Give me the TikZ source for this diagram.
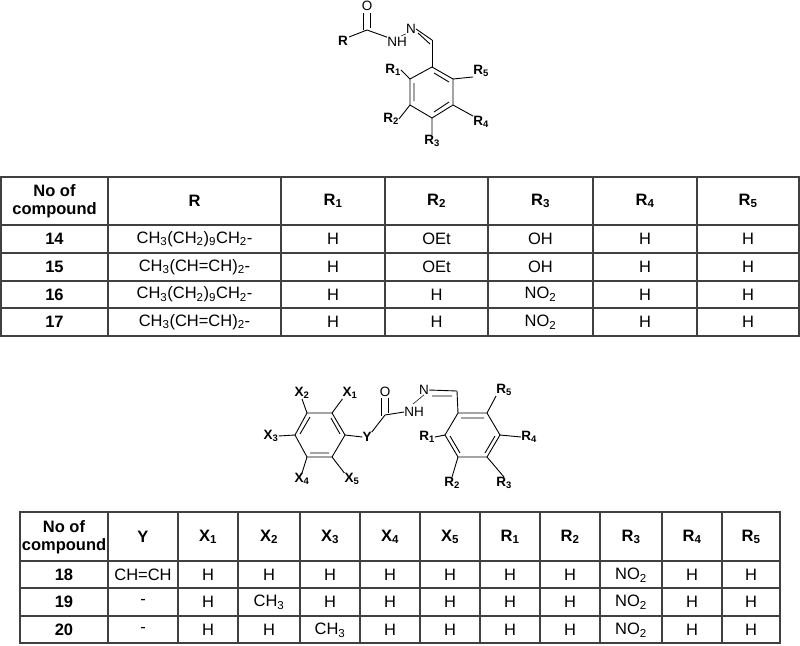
\documentclass[tikz,border=0pt]{standalone}
\usepackage{fontspec}
\setmainfont{Liberation Sans}
\newcommand\dn[1]{\textsubscript{#1}}
\begin{document}
\begin{tikzpicture}[x=1pt,y=-1pt,
  grid/.style={line width=1.1pt,draw=black!75},
  cell/.style={font=\fontsize{16.5}{18.5}\selectfont,inner sep=0pt,anchor=center},
  hcell/.style={cell,font=\fontsize{16.5}{18.5}\selectfont\bfseries,align=center},
  bond/.style={line width=0.9pt},
  lab/.style={font=\fontsize{13.5}{15}\selectfont\bfseries,inner sep=0pt},
  atom/.style={font=\fontsize{13.5}{15}\selectfont,inner sep=0pt}]
\useasboundingbox (0,0) rectangle (800,645);
% ---------- molecule 1 ----------
\coordinate (a1) at (432,67); \coordinate (a2) at (453,79); \coordinate (a3) at (453,105);
\coordinate (a4) at (432,118); \coordinate (a5) at (410,105); \coordinate (a6) at (410,79);
\draw[bond] (a1)--(a2)--(a3)--(a4)--(a5)--(a6)--cycle;
\draw[bond] (414,83)--(414,101) (434,73)--(449,82) (434,112)--(449,102);
\node[atom] (o1) at (367,6) {O};
\coordinate (c1) at (367,30);
\node[lab] (r) at (343,41) {R};
\node[atom] (nh1) at (397,42) {NH};
\node[atom] (n1) at (411,29) {N};
\coordinate (ch1) at (432,40);
\draw[bond] (r.east)++(1,-4) -- (c1) -- (nh1.north west);
\draw[bond] (363,13)--(363,30) (370,13)--(370,28);
\draw[bond,line width=0.5pt] (401,36)--(n1.south west);
\draw[bond] (n1.east)--(ch1) (418,33)--(430,44);
\draw[bond] (ch1)--(a1);
\node[lab] (r1) at (393,70) {R\dn1};
\node[lab] (r5) at (481,71) {R\dn5};
\node[lab] (r2) at (391,119) {R\dn2};
\node[lab] (r4) at (481,122) {R\dn4};
\node[lab] (r3) at (432,141) {R\dn3};
\draw[bond] (r1.east)--(a6) (a2)--(r5.south west) (r2.east)--(a5) (a3)--(r4.north west) (a4)--(r3.north);
% ---------- table 1 ----------
\draw[grid] (1,177) rectangle (799,336);
\foreach \x in {108,281,385,488,593,697} \draw[grid] (\x,177)--(\x,336);
\foreach \y in {225,253,281,308} \draw[grid] (1,\y)--(799,\y);
\node[hcell] (h1) at (54.5,201) {No of\\compound};
\foreach \t [count=\i] in {R,R\dn1,R\dn2,R\dn3,R\dn4,R\dn5}{
  \pgfmathsetmacro\xa{{108,281,385,488,593,697}[\i-1]}
  \pgfmathsetmacro\xb{{281,385,488,593,697,799}[\i-1]}
  \node[hcell] (h1-\i) at ({(\xa+\xb)/2},201) {\t};}
\foreach \y/\n/\r/\rb/\rc [count=\j] in {
  239/14/CH\dn3(CH\dn2)\dn9CH\dn2-/OEt/OH,
  267/15/CH\dn3(CH=CH)\dn2-/OEt/OH,
  294.5/16/CH\dn3(CH\dn2)\dn9CH\dn2-/H/NO\dn2,
  322/17/CH\dn3(CH=CH)\dn2-/H/NO\dn2}{
  \node[hcell] (n1-\j) at (54.5,\y) {\n};
  \node[cell] (c1-\j-1) at (194.5,\y) {\r};
  \node[cell] (c1-\j-2) at (333,\y) {H};
  \node[cell] (c1-\j-3) at (436.5,\y) {\rb};
  \node[cell] (c1-\j-4) at (540.5,\y) {\rc};
  \node[cell] (c1-\j-5) at (645,\y) {H};
  \node[cell] (c1-\j-6) at (748,\y) {H};}
% ---------- molecule 2 ----------
\coordinate (b1) at (295,435); \coordinate (b2) at (307,413); \coordinate (b3) at (332,413);
\coordinate (b4) at (345,435); \coordinate (b5) at (332,457); \coordinate (b6) at (307,457);
\draw[bond] (b1)--(b2)--(b3)--(b4)--(b5)--(b6)--cycle;
\draw[bond] (300,434)--(310,417) (331,418)--(340,434) (310,453)--(329,453);
\coordinate (d1) at (445,435); \coordinate (d2) at (458,413); \coordinate (d3) at (487,413);
\coordinate (d4) at (500,435); \coordinate (d5) at (487,457); \coordinate (d6) at (458,457);
\draw[bond] (d1)--(d2)--(d3)--(d4)--(d5)--(d6)--cycle;
\draw[bond] (461,418)--(484,418) (450,436)--(460,453) (495,436)--(485,453);
\node[lab] (x1) at (350,393) {X\dn1};
\node[lab] (x2) at (302,393) {X\dn2};
\node[lab] (x3) at (271,436) {X\dn3};
\node[lab] (x4) at (302,479) {X\dn4};
\node[lab] (x5) at (352,479) {X\dn5};
\draw[bond] (x2.south)--(b2) (b3)--(x1.south west) (x3.east)--(b1) (b6)--(x4.north) (b5)--(x5.north west);
\node[lab] (y) at (367,437) {Y};
\coordinate (c2) at (385,415);
\node[atom] (o2) at (385,392) {O};
\node[atom] (nh2) at (414,412) {NH};
\node[atom] (n2) at (424,390) {N};
\coordinate (ch2) at (457,391);
\draw[bond] (b4)--(y.west) (y.north east)--(c2)--(nh2.west);
\draw[bond] (381.5,398)--(381.5,416) (388.5,398)--(388.5,413);
\draw[bond,line width=0.5pt] (413,404)--(n2.south);
\draw[bond] (n2.east)--(ch2) (432,396)--(452,396);
\draw[bond] (ch2)--(d2);
\node[lab] (s1) at (427,437) {R\dn1};
\node[lab] (s2) at (452,483) {R\dn2};
\node[lab] (s3) at (504,483) {R\dn3};
\node[lab] (s4) at (529,437) {R\dn4};
\node[lab] (s5) at (504,390) {R\dn5};
\draw[bond] (s1.east)--(d1) (d6)--(s2.north) (d5)--(s3.north) (d4)--(s4.west) (d3)--(s5.south west);
% ---------- table 2 ----------
\draw[grid] (20,512) rectangle (780,643);
\foreach \x in {108,178,238,300,360,420,480,540,600,662,722} \draw[grid] (\x,512)--(\x,643);
\foreach \y in {561,588,616} \draw[grid] (20,\y)--(780,\y);
\node[hcell] (h2) at (64,537) {No of\\compound};
\foreach \t [count=\i] in {Y,X\dn1,X\dn2,X\dn3,X\dn4,X\dn5,R\dn1,R\dn2,R\dn3,R\dn4,R\dn5}{
  \pgfmathsetmacro\xa{{108,178,238,300,360,420,480,540,600,662,722}[\i-1]}
  \pgfmathsetmacro\xb{{178,238,300,360,420,480,540,600,662,722,780}[\i-1]}
  \node[hcell] (h2-\i) at ({(\xa+\xb)/2},537) {\t};}
\foreach \y/\n/\ya/\xb/\xc [count=\j] in {
  575/18/CH=CH/H/H, 602/19/-/CH\dn3/H, 630/20/-/H/CH\dn3}{
  \node[hcell] (n2-\j) at (64,\y) {\n};
  \node[cell] (c2-\j-1) at (143,\y) {\ya};
  \node[cell] (c2-\j-2) at (208,\y) {H};
  \node[cell] (c2-\j-3) at (269,\y) {\xb};
  \node[cell] (c2-\j-4) at (330,\y) {\xc};
  \node[cell] (c2-\j-5) at (390,\y) {H};
  \node[cell] (c2-\j-6) at (450,\y) {H};
  \node[cell] (c2-\j-7) at (510,\y) {H};
  \node[cell] (c2-\j-8) at (570,\y) {H};
  \node[cell] (c2-\j-9) at (631,\y) {NO\dn2};
  \node[cell] (c2-\j-10) at (692,\y) {H};
  \node[cell] (c2-\j-11) at (751,\y) {H};}
\end{tikzpicture}
\end{document}
